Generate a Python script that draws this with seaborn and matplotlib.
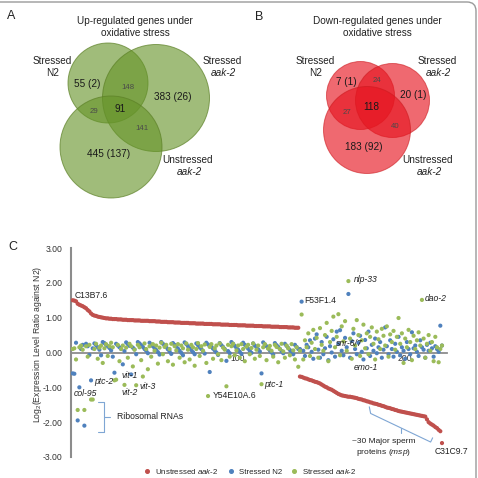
import pandas as pd
import matplotlib
matplotlib.use('Agg')
import matplotlib.pyplot as plt
import seaborn as sns
from matplotlib.patches import Circle, FancyBboxPatch
from matplotlib.lines import Line2D

sns.set_style('white')
plt.rcParams['font.family'] = ['Liberation Sans', 'DejaVu Sans']
plt.rcParams['mathtext.fontset'] = 'custom'
plt.rcParams['mathtext.rm'] = 'Liberation Sans'
plt.rcParams['mathtext.it'] = 'Liberation Sans:italic'
plt.rcParams['axes.unicode_minus'] = False

# Venn counts (A: up-regulated, B: down-regulated)
# order: N2 only, N2&stressed, stressed only, N2&unstressed, all, stressed&unstressed, unstressed only
up_counts = ['55 (2)', '148', '383 (26)', '29', '91', '141', '445 (137)']
down_counts = ['7 (1)', '24', '20 (1)', '27', '118', '40', '183 (92)']

# Panel C: log2 ratio against N2, genes in rank order
red_up = [1.50, 1.49, 1.47, 1.40, 1.37, 1.35, 1.33, 1.30, 1.27, 1.22,
          1.18, 1.12, 1.08, 1.06, 1.05, 1.03, 1.02, 1.01, 1.00, 0.99,
          0.98, 0.98, 0.97, 0.97, 0.96, 0.96, 0.96, 0.95, 0.95, 0.95,
          0.94, 0.94, 0.94, 0.93, 0.93, 0.93, 0.93, 0.92, 0.92, 0.92,
          0.92, 0.91, 0.91, 0.91, 0.91, 0.91, 0.90, 0.90, 0.90, 0.90,
          0.89, 0.89, 0.89, 0.88, 0.88, 0.88, 0.88, 0.87, 0.87, 0.87,
          0.87, 0.86, 0.86, 0.86, 0.86, 0.85, 0.85, 0.85, 0.85, 0.85,
          0.84, 0.84, 0.84, 0.84, 0.83, 0.83, 0.83, 0.83, 0.83, 0.82,
          0.82, 0.82, 0.82, 0.82, 0.81, 0.81, 0.81, 0.81, 0.81, 0.80,
          0.80, 0.80, 0.80, 0.80, 0.79, 0.79, 0.79, 0.79, 0.79, 0.78,
          0.78, 0.78, 0.78, 0.78, 0.77, 0.77, 0.77, 0.77, 0.77, 0.76,
          0.76, 0.76, 0.76, 0.76, 0.75, 0.75, 0.75, 0.75, 0.75, 0.74,
          0.74, 0.74, 0.74, 0.74, 0.73, 0.73, 0.73, 0.73, 0.73, 0.72,
          0.72, 0.72, 0.72, 0.71, 0.71, 0.71]
red_down = [-0.69, -0.70, -0.72, -0.74, -0.75, -0.77, -0.79, -0.80, -0.82, -0.84,
            -0.85, -0.87, -0.89, -0.92, -0.95, -0.98, -1.00, -1.03, -1.05, -1.07,
            -1.10, -1.13, -1.16, -1.19, -1.21, -1.23, -1.24, -1.25, -1.26, -1.27,
            -1.27, -1.28, -1.29, -1.30, -1.31, -1.33, -1.34, -1.35, -1.37, -1.38,
            -1.40, -1.41, -1.43, -1.44, -1.46, -1.47, -1.48, -1.50, -1.51, -1.53,
            -1.54, -1.56, -1.58, -1.59, -1.60, -1.62, -1.63, -1.65, -1.66, -1.68,
            -1.69, -1.70, -1.71, -1.72, -1.73, -1.74, -1.75, -1.76, -1.77, -1.78,
            -1.79, -1.80, -1.81, -1.82, -1.83, -1.84, -1.92, -2.00, -2.04, -2.07,
            -2.10, -2.14, -2.17, -2.22, -2.26, -2.60]
blue_vals = [-0.60, -0.61, 0.28, -1.95, -1.00, 0.10, 0.22, -2.10, 0.25, 0.18,
             -0.07, -0.80, 0.12, 0.26, 0.21, 0.15, 0.08, -0.08, 0.30, 0.27,
             0.22, 0.18, 0.13, 0.06, -0.12, -0.58, 0.25, 0.20, 0.15, 0.10,
             -0.34, 0.04, 0.29, 0.24, 0.19, -0.63, 0.14, 0.09, -0.05, 0.30,
             0.26, 0.21, 0.16, 0.10, 0.05, -0.02, 0.28, 0.23, 0.18, 0.12,
             0.07, 0.01, -0.06, 0.30, 0.25, 0.20, 0.15, 0.09, 0.03, -0.04,
             0.27, 0.22, 0.17, 0.11, 0.05, -0.01, -0.08, 0.29, 0.24, 0.18,
             0.12, 0.07, 0.01, -0.05, 0.26, 0.21, 0.15, 0.10, 0.04, -0.03,
             0.28, 0.23, -0.56, 0.17, 0.11, 0.06, 0.00, -0.07, 0.27, 0.21,
             0.16, 0.10, -0.24, 0.04, -0.02, 0.30, 0.25, 0.19, 0.13, 0.08,
             0.02, -0.04, 0.28, 0.22, 0.17, 0.11, 0.05, -0.01, 0.26, 0.20,
             0.15, 0.09, 0.03, -0.60, 0.29, 0.23, 0.18, 0.12, 0.06, 0.00,
             -0.06, 0.27, 0.21, 0.16, 0.10, 0.04, -0.02, 0.25, 0.19, 0.13,
             0.07, 0.01, -0.05, 0.22, 0.16, 0.10,
             0.10, 1.46, 0.05, -0.10, 0.22, 0.15, 0.35, 0.02, -0.18, 0.40,
             0.52, 0.08, -0.15, 0.30, -0.05, 0.12, 0.45, -0.22, 0.18, 0.00,
             0.38, -0.12, 0.60, 0.25, 0.64, 0.05, -0.08, 0.42, 0.15, 1.68,
             -0.15, 0.33, 0.55, 0.10, -0.05, 0.28, 0.48, 0.02, -0.20, 0.36,
             0.12, 0.60, -0.10, 0.22, 0.05, 0.40, -0.02, 0.15, 0.30, -0.15,
             0.08, 0.72, 0.18, -0.05, 0.35, 0.10, -0.12, 0.25, 0.02, 0.45,
             -0.08, 0.15, 0.05, -0.18, 0.30, 0.10, -0.05, 0.58, 0.12, 0.20,
             0.02, -0.10, 0.35, 0.15, 0.08, -0.15, 0.22, 0.05, 0.28, 0.12,
             -0.12, 0.18, 0.10, 0.02, 0.77, 0.20]
green_vals = [0.10, 0.12, -0.20, -1.65, 0.15, 0.20, 0.08, -1.65, 0.18, -0.12,
              0.22, -1.35, -1.35, 0.10, 0.25, -0.18, 0.14, 0.20, -0.30, 0.12,
              0.24, -0.10, 0.18, 0.28, 0.15, -0.80, -0.78, 0.22, -0.25, 0.10,
              0.20, -0.93, 0.14, -0.15, 0.25, 0.18, -0.40, 0.08, -0.94, 0.22,
              0.15, -0.22, -0.69, 0.26, 0.10, -0.48, 0.18, -0.12, 0.24, 0.05,
              0.20, -0.32, 0.14, 0.28, -0.05, 0.16, 0.22, -0.25, 0.10, 0.25,
              -0.35, 0.18, 0.06, 0.24, -0.15, 0.20, 0.12, -0.28, 0.26, 0.08,
              -0.20, 0.22, 0.15, -0.38, 0.10, 0.27, -0.10, 0.18, 0.05, 0.23,
              -0.30, -1.25, 0.16, 0.24, -0.18, 0.12, 0.20, -0.05, 0.26, -0.22,
              0.14, 0.08, -0.97, 0.22, -0.12, 0.18, 0.25, -0.08, 0.06, 0.20,
              -0.15, 0.24, 0.10, -0.25, 0.17, 0.22, -0.05, 0.13, 0.26, -0.18,
              0.08, 0.20, -0.10, -0.91, 0.15, 0.24, -0.22, 0.11, 0.19, 0.05,
              -0.12, 0.22, 0.16, -0.28, 0.10, 0.25, 0.03, -0.15, 0.20, 0.12,
              -0.08, 0.24, 0.06, -0.20, 0.15, -0.41,
              0.05, 1.09, -0.20, 0.35, 0.15, 0.55, -0.10, 0.28, 0.65, 0.10,
              0.42, -0.15, 0.70, 0.22, 0.05, 0.50, 0.85, -0.25, 0.30, 0.62,
              1.03, 0.15, 0.45, 1.10, -0.08, 0.75, 0.32, 0.90, 0.05, 2.05,
              0.40, -0.18, 0.68, 0.20, 0.93, 0.50, -0.10, 0.35, 0.80, 0.12,
              0.55, -0.05, 0.45, 0.72, 0.25, -0.20, 0.60, 0.38, 0.10, 0.68,
              0.48, 0.20, 0.75, -0.12, 0.52, 0.30, 0.62, 0.08, 0.45, 0.99,
              0.25, 0.55, -0.30, 0.40, 0.15, 0.65, 0.30, -0.22, 0.48, 0.10,
              0.35, 0.58, 0.20, 1.51, 0.40, -0.15, 0.25, 0.50, 0.05, 0.30,
              -0.25, 0.45, 0.15, -0.28, 0.10, 0.20]

series_names = ['Unstressed aak-2', 'Stressed N2', 'Stressed aak-2']
series_colors = ['#c0504d', '#4f81bd', '#9bbb59']

red_vals = red_up + red_down
rank = list(range(1, len(red_vals) + 1))
df = pd.concat([
    pd.DataFrame({'rank': rank, 'ratio': red_vals, 'series': series_names[0]}),
    pd.DataFrame({'rank': rank, 'ratio': blue_vals, 'series': series_names[1]}),
    pd.DataFrame({'rank': rank, 'ratio': green_vals, 'series': series_names[2]}),
])

fig = plt.figure(figsize=(4.78, 4.78), dpi=100)

# background axes in pixel units for the Venn panels
bg = fig.add_axes([0, 0, 1, 1])
bg.set_xlim(0, 478)
bg.set_ylim(478, 0)
bg.axis('off')

bg.add_patch(FancyBboxPatch((-20, 2), 496, 520, boxstyle='round,pad=0,rounding_size=9',
                            fill=False, ec='#9a9a9a', lw=1, clip_on=False))

def venn(circles, face, edge, counts, pos, big):
    for cx, cy, r in circles:
        bg.add_patch(Circle((cx, cy), r, fc=face, ec='none'))
        bg.add_patch(Circle((cx, cy), r, fc='none', ec=edge, lw=0.7))
    for lab, (x, y), b in zip(counts, pos, big):
        if b:
            bg.text(x, y, lab, ha='center', va='center', fontsize=7.2, color='#1a1a1a')
        else:
            bg.text(x, y, lab, ha='center', va='center', fontsize=5.6, color='#4a4a4a')

green_face = (0.40, 0.58, 0.16, 0.62)
green_edge = (0.36, 0.50, 0.15, 0.7)
red_face = (0.90, 0.08, 0.12, 0.64)
red_edge = (0.80, 0.10, 0.12, 0.6)
big_flags = [True, False, True, False, True, False, True]

venn([(108, 83, 40), (156, 98, 53.5), (111, 147, 51)], green_face, green_edge, up_counts,
     [(87, 84), (128, 87), (173, 97), (94, 111), (120, 109), (142, 129), (109, 154)], big_flags)
venn([(360.5, 95.5, 34), (392.5, 100.5, 37), (367, 130, 43.5)], red_face, red_edge, down_counts,
     [(346, 82), (377, 80), (413, 95), (347, 112), (371, 107), (395, 126), (364, 147)], big_flags)

def titled(x, y, lines):
    bg.text(x, y, lines[0], ha='center', va='center', fontsize=7.2, color='#222')
    bg.text(x, y + 12, lines[1], ha='center', va='center', fontsize=7.2, color='#222')

titled(135, 21, ['Up-regulated genes under', 'oxidative stress'])
titled(377, 21, ['Down-regulated genes under', 'oxidative stress'])

def setlabel(x, y, top, bottom, italic):
    bg.text(x, y, top, ha='center', va='center', fontsize=7.2, color='#222')
    bg.text(x + 1, y + 12, bottom, ha='center', va='center', fontsize=7.2, color='#222',
            style='italic' if italic else 'normal')

setlabel(52, 61, 'Stressed', 'N2', False)
setlabel(222, 61, 'Stressed', 'aak-2', True)
setlabel(188, 160, 'Unstressed', 'aak-2', True)
setlabel(315, 61, 'Stressed', 'N2', False)
setlabel(437, 61, 'Stressed', 'aak-2', True)
setlabel(428, 160, 'Unstressed', 'aak-2', True)

bg.text(11, 16, 'A', ha='center', va='center', fontsize=9, color='#222')
bg.text(259, 17, 'B', ha='center', va='center', fontsize=9, color='#222')
bg.text(13, 247, 'C', ha='center', va='center', fontsize=9, color='#222')

# panel C
ax = fig.add_axes([71 / 478, 1 - 457 / 478, 376 / 478, 209 / 478])
sns.scatterplot(data=df, x='rank', y='ratio', hue='series', hue_order=series_names,
                palette=series_colors, s=9, linewidth=0, legend=False, ax=ax, zorder=3)
ax.set_xlim(0, 225)
ax.set_ylim(-3, 3)
ax.set_facecolor('none')
ax.spines['top'].set_visible(False)
ax.spines['right'].set_visible(False)
ax.spines['bottom'].set_position(('data', 0))
ax.spines['bottom'].set_color('#8c8c8c')
ax.spines['bottom'].set_linewidth(1.3)
ax.spines['left'].set_color('#8c8c8c')
ax.spines['left'].set_linewidth(1.5)
ax.set_yticks([-3, -2, -1, 0, 1, 2, 3])
ax.set_yticklabels(['-3.00', '-2.00', '-1.00', '0.00', '1.00', '2.00', '3.00'])
ax.set_xticks([100, 200])
ax.set_xticklabels(['100', '200'])
ax.tick_params(axis='y', length=0, pad=6, labelsize=6.2, labelcolor='#333')
ax.tick_params(axis='x', length=0, pad=1, labelsize=6.2, labelcolor='#333')
ax.set_xlabel('')
ax.set_ylabel('')
fig.text(38 / 478, 1 - 344 / 478, 'Log$_2$(Expression Level Ratio against N2)', rotation=90,
         ha='center', va='center', fontsize=6.2, color='#333')

notes = [
    ('C13B7.6', 2.4, 1.65, 'normal'), ('col-95', 1.6, -1.18, 'italic'),
    ('ptc-2', 14, -0.83, 'italic'), ('vit-1', 30.5, -0.67, 'italic'),
    ('vit-2', 30.5, -1.15, 'italic'), ('vit-3', 40.9, -0.98, 'italic'),
    ('Y54E10A.6', 84.6, -1.24, 'normal'), ('ptc-1', 115.5, -0.92, 'italic'),
    ('F53F1.4', 139.4, 1.48, 'normal'), ('nlp-33', 169.4, 2.1, 'italic'),
    ('dao-2', 211.9, 1.55, 'italic'), ('snr-6/7', 158.5, 0.27, 'italic'),
    ('emo-1', 169, -0.42, 'italic'), ('C31C9.7', 217.8, -2.85, 'normal'),
    ('Ribosomal RNAs', 27.5, -1.85, 'normal'),
]
for lab, x, y, st in notes:
    ax.text(x, y, lab, ha='left', va='center', fontsize=6.2, color='#222', style=st, zorder=4)
ax.text(186.9, -2.55, '~30 Major sperm', ha='center', va='center', fontsize=6.0, color='#222')
ax.text(186.9, -2.88, 'proteins ($\\mathit{msp}$)', ha='center', va='center', fontsize=6.0, color='#222')

br = '#7fa6d4'
ax.plot([16.2, 19.6, 19.6, 16.2], [-1.41, -1.41, -2.27, -2.27], color=br, lw=0.8)
ax.plot([19.6, 23.3], [-1.85, -1.85], color=br, lw=0.8)
ax.plot([178.5, 179.3, 215.2, 216.4], [-1.56, -1.75, -2.57, -2.45], color=br, lw=0.8)
ax.plot([197.3, 197.3], [-2.16, -2.31], color=br, lw=0.8)

handles = [Line2D([], [], marker='o', ls='', color=c, markersize=2.6) for c in series_colors]
labels = ['Unstressed $\\mathit{aak}$-$\\mathit{2}$', 'Stressed N2', 'Stressed $\\mathit{aak}$-$\\mathit{2}$']
fig.legend(handles, labels, loc='center', bbox_to_anchor=(248 / 478, 1 - 471 / 478), ncol=3,
           frameon=False, fontsize=5.7, handletextpad=0.05, columnspacing=0.5, borderpad=0)

fig.savefig('out.png', dpi=100)
